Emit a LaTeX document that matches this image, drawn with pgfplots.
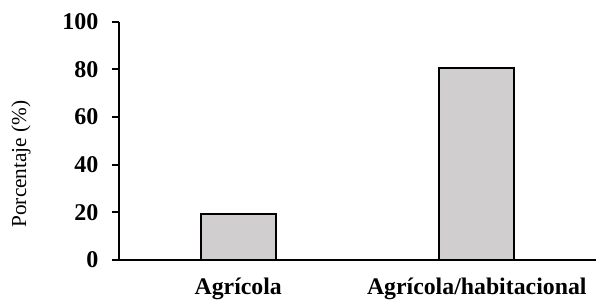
\documentclass[border=0pt]{standalone}
\usepackage{fontspec}
\setmainfont{Liberation Serif}
\usepackage{pgfplots}
\pgfplotsset{compat=1.18}
\definecolor{barfill}{HTML}{D0CECE}
\begin{document}
\begin{tikzpicture}
\path[use as bounding box] (-119pt,-42pt) rectangle (477pt,260pt);
\begin{axis}[at={(0,0)}, anchor=south west, scale only axis,
  width=477pt, height=238.3pt,
  xmin=-0.5, xmax=1.5, ymin=0, ymax=100,
  axis x line*=bottom, axis y line*=left,
  axis line style={line width=2pt, -},
  xtick={0,1}, xticklabels={Agrícola, Agrícola/habitacional},
  x tick style={draw=none},
  ytick={0,20,...,100},
  tick align=outside, major tick length=7pt,
  y tick style={line width=2pt, black},
  ybar, bar width=75pt,
  /pgf/number format/assume math mode=true,
  ticklabel style={inner sep=0pt},
  yticklabel style={font=\fontsize{24}{27}\selectfont\bfseries, anchor=east, xshift=-13.5pt},
  xticklabel style={font=\fontsize{23.8}{27}\selectfont\bfseries, anchor=base, yshift=-27pt},
  ylabel={Porcentaje (\%)},
  ylabel style={font=\fontsize{21.3}{24}\selectfont, at={(axis description cs:-0.2055,0.403)}, anchor=center},
]
\addplot[fill=barfill, draw=black, line width=1.6pt] coordinates {(0,19.4) (1,80.6)};
\end{axis}
\end{tikzpicture}
\end{document}
